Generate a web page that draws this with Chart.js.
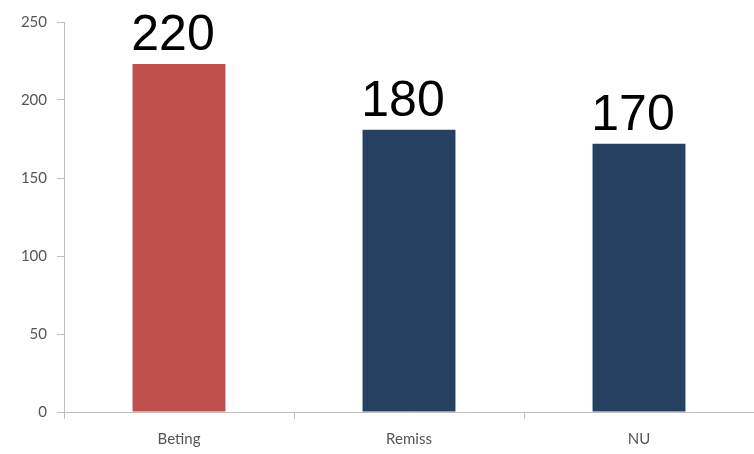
<!DOCTYPE html>
<html>
<head>
<meta charset="utf-8">
<script src="https://cdn.jsdelivr.net/npm/chart.js@4"></script>
<style>
html,body{margin:0;padding:0;background:#fff;}
#wrap{width:754px;height:454px;position:relative;}
</style>
</head>
<body>
<div id="wrap"><canvas id="c" width="754" height="454"></canvas></div>
<script>
const categories = ["Beting", "Remiss", "NU"];
const values = [223, 181, 172];
const valueLabels = ["220", "180", "170"];
const barColors = ["#C0504D", "#254061", "#254061"];
const yTicks = [0, 50, 100, 150, 200, 250];

const axisGray = "#BFBFBF";
const textGray = "#555555";

const labelPlugin = {
  id: "valueLabels",
  afterDatasetsDraw(chart) {
    const ctx = chart.ctx;
    const meta = chart.getDatasetMeta(0);
    ctx.save();
    ctx.font = "50px 'Liberation Sans', Arial, sans-serif";
    ctx.fillStyle = "#000";
    ctx.textAlign = "center";
    ctx.textBaseline = "alphabetic";
    meta.data.forEach((bar, i) => {
      ctx.fillText(valueLabels[i], bar.x - 6, bar.y - 14);
    });
    ctx.restore();
  }
};

new Chart(document.getElementById("c"), {
  type: "bar",
  data: {
    labels: categories,
    datasets: [{
      data: values,
      backgroundColor: barColors,
      borderWidth: 0,
      barPercentage: 0.404,
      categoryPercentage: 1.0
    }]
  },
  options: {
    responsive: false,
    animation: false,
    layout: { padding: { top: 22, right: 0, bottom: 0, left: 0 } },
    plugins: { legend: { display: false }, tooltip: { enabled: false } },
    scales: {
      x: {
        offset: true,
        grid: { display: true, drawOnChartArea: false, drawTicks: true, tickLength: 7, color: axisGray, offset: true },
        border: { display: true, color: axisGray, width: 1 },
        ticks: { color: textGray, font: { family: "Lato, 'Open Sans', sans-serif", size: 15 }, padding: 11 },
        afterFit(scale) { scale.height = 42; }
      },
      y: {
        min: 0, max: 250,
        afterBuildTicks(scale) { scale.ticks = yTicks.map(v => ({ value: v })); },
        grid: { display: true, drawOnChartArea: false, drawTicks: true, tickLength: 7, color: axisGray },
        border: { display: true, color: axisGray, width: 1 },
        ticks: { color: textGray, font: { family: "Lato, 'Open Sans', sans-serif", size: 15 }, padding: 10 },
        afterFit(scale) { scale.width = 64; }
      }
    }
  },
  plugins: [labelPlugin]
});
</script>
</body>
</html>
